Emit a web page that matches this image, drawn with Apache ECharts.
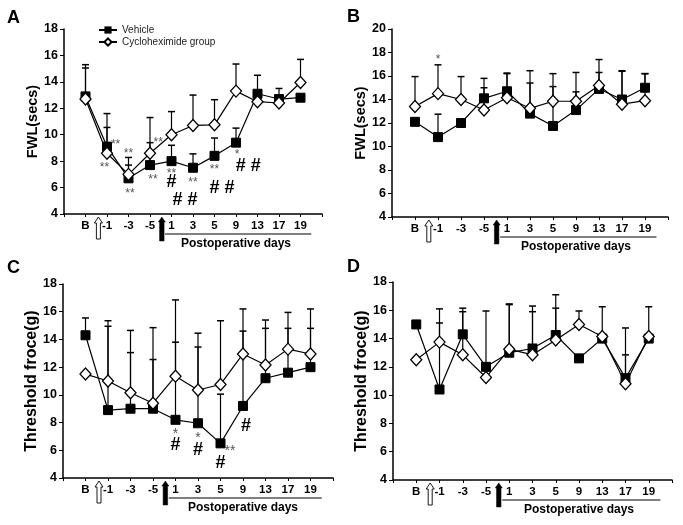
<!DOCTYPE html>
<html>
<head>
<meta charset="utf-8">
<script src="https://cdn.jsdelivr.net/npm/echarts@6/dist/echarts.min.js"></script>
<style>
html,body{margin:0;padding:0;background:#fff;}
#main{width:683px;height:525px;}
</style>
</head>
<body>
<div id="main"></div>
<script>
// ---- data ----
const categories = ['B', '-1', '-3', '-5', '1', '3', '5', '9', '13', '17', '19'];
const seriesNames = ['Vehicle', 'Cycloheximide group'];

// Panel A : FWL(secs)
const A_vehicle      = [12.9, 9.1, 6.7, 7.7, 8.0, 7.5, 8.4, 9.4, 13.1, 12.7, 12.8];
const A_cyclo        = [12.7, 8.6, 7.0, 8.6, 10.0, 10.7, 10.75, 13.3, 12.5, 12.4, 13.95];
const A_vehicleUpper = [15.3, 10.55, 8.28, 9.4, 9.2, 8.55, 9.75, 10.5, 14.5, 13.5, 12.8];
const A_cycloUpper   = [15.05, 11.6, 7.7, 11.3, 11.75, 13.0, 12.65, 15.35, 12.5, 12.4, 15.7];

// Panel B : FWL(secs)
const B_vehicle      = [12.1, 10.8, 12.0, 14.1, 14.7, 12.8, 11.75, 13.1, 14.9, 14.0, 15.0];
const B_cyclo        = [13.4, 14.5, 14.0, 13.1, 14.15, 13.25, 13.85, 13.85, 15.2, 13.6, 13.9];
const B_vehicleUpper = [12.1, 12.75, 12.0, 15.8, 16.25, 15.4, 15.1, 14.65, 17.4, 16.45, 16.2];
const B_cycloUpper   = [15.95, 16.95, 15.95, 15.0, 16.2, 16.45, 16.2, 16.3, 16.3, 16.4, 16.2];

// Panel C : Threshold froce(g)
const C_vehicle      = [14.3, 8.9, 9.0, 9.0, 8.2, 7.95, 6.5, 9.2, 11.2, 11.6, 12.0];
const C_cyclo        = [11.5, 11.0, 10.15, 9.4, 11.35, 10.35, 10.75, 12.95, 12.15, 13.3, 12.95];
const C_vehicleUpper = [15.55, 14.95, 13.05, 12.55, 13.8, 13.45, 10.05, 14.6, 14.8, 14.8, 14.8];
const C_cycloUpper   = [11.5, 15.35, 14.65, 14.85, 16.85, 14.45, 15.35, 16.2, 15.4, 15.95, 16.2];

// Panel D : Threshold froce(g)
const D_vehicle      = [15.0, 10.4, 14.3, 12.0, 13.0, 13.3, 14.25, 12.6, 14.0, 11.2, 14.0];
const D_cyclo        = [12.5, 13.75, 12.85, 11.25, 13.25, 12.85, 13.9, 15.0, 14.15, 10.8, 14.15];
const D_vehicleUpper = [15.0, 15.1, 16.15, 15.95, 16.45, 16.3, 17.1, 12.6, 16.25, 12.85, 14.0];
const D_cycloUpper   = [12.5, 16.1, 15.9, 11.25, 16.4, 15.9, 16.15, 15.95, 14.15, 14.75, 16.25];

// significance marks: [category position, value, text]
const A_marks = [[2.4, 9.45, '**'], [1.88, 7.75, '**'], [3.0, 8.78, '**'], [3.07, 5.73, '**'],
                 [4.38, 9.66, '**'], [4.14, 6.8, '**'], [5.0, 7.3, '**'], [6.0, 6.56, '**'],
                 [7.0, 7.6, '**'], [8.05, 8.7, '*'],
                 [5.0, 6.4, '#'], [5.63, 5.05, '# #'], [7.35, 6.0, '# #'], [8.57, 7.6, '# #']];
const B_marks = [[2.0, 17.66, '*']];
const C_marks = [[5.0, 7.37, '*'], [5.0, 6.4, '#'], [6.0, 7.08, '*'], [6.0, 6.0, '#'],
                 [7.42, 6.17, '**'], [7.0, 5.1, '#'], [8.13, 7.73, '#']];
const D_marks = [];

const panelLetters = ['A', 'B', 'C', 'D'];
const yTitles = ['FWL(secs)', 'FWL(secs)', 'Threshold froce(g)', 'Threshold froce(g)'];
const yMins = [4, 4, 4, 4];
const yMaxs = [18, 20, 18, 18];
const xAxisText = 'Postoperative days';
// decoration positions on the category scale
const whiteArrowX = 1.6;
const blackArrowX = 4.55;
const postLineStart = 4.7;
const postLineEnd = 11.5;
const postTextX = 8.0;

// ---- layout ----
const grids = [
  {left: 64, top: 29, width: 258, height: 185},
  {left: 392, top: 29, width: 276, height: 188},
  {left: 63, top: 284, width: 270, height: 194},
  {left: 393, top: 282, width: 279, height: 198}
];
const yNameSize = [14.5, 14.5, 16, 16];
const letterPos = [[7, 9], [347, 8], [7, 259], [347, 258]];

const panels = [
  {v: A_vehicle, c: A_cyclo, vu: A_vehicleUpper, cu: A_cycloUpper, m: A_marks},
  {v: B_vehicle, c: B_cyclo, vu: B_vehicleUpper, cu: B_cycloUpper, m: B_marks},
  {v: C_vehicle, c: C_cyclo, vu: C_vehicleUpper, cu: C_cycloUpper, m: C_marks},
  {v: D_vehicle, c: D_cyclo, vu: D_vehicleUpper, cu: D_cycloUpper, m: D_marks}
];

const FONT = '"Liberation Sans", Arial, sans-serif';

const xAxes = [], yAxes = [], series = [], titles = [];
panels.forEach((p, i) => {
  titles.push({text: panelLetters[i], left: letterPos[i][0], top: letterPos[i][1], padding: 0,
    textStyle: {fontSize: 18, fontWeight: 'bold', color: '#000', fontFamily: FONT}});
  xAxes.push({
    type: 'value', gridIndex: i, min: 0, max: 12, interval: 1,
    axisLine: {show: true, onZero: false, lineStyle: {color: '#000', width: 1.5}},
    axisTick: {show: true, length: 3, lineStyle: {color: '#000', width: 1}},
    splitLine: {show: false},
    axisLabel: {margin: 6, color: '#000', fontWeight: 'bold', fontSize: 11.5, fontFamily: FONT,
      formatter: v => (v >= 1 && v <= categories.length) ? categories[v - 1] : ''}
  });
  yAxes.push({
    type: 'value', gridIndex: i, min: yMins[i], max: yMaxs[i], interval: 2,
    name: yTitles[i], nameLocation: 'middle', nameGap: 22, nameRotate: 90,
    nameTextStyle: {fontSize: yNameSize[i], fontWeight: 'bold', color: '#000', fontFamily: FONT},
    axisLine: {show: true, lineStyle: {color: '#000', width: 1.5}},
    axisTick: {show: true, length: 4, lineStyle: {color: '#000', width: 1}},
    splitLine: {show: false},
    axisLabel: {margin: 6, color: '#000', fontWeight: 'bold', fontSize: 12.5, fontFamily: FONT}
  });

  const toPts = arr => arr.map((y, k) => [k + 1, y]);
  const toErr = (vals, ups) => vals.map((y, k) => [k + 1, y, ups[k]]);

  // error bars
  series.push({
    type: 'custom', xAxisIndex: i, yAxisIndex: i, z: 2, silent: true,
    data: toErr(p.v, p.vu).concat(toErr(p.c, p.cu)),
    renderItem: (params, api) => {
      const x = api.value(0), y = api.value(1), u = api.value(2);
      if (u <= y + 0.02) return null;
      const a = api.coord([x, y]), b = api.coord([x, u]);
      return {type: 'group', children: [
        {type: 'line', shape: {x1: a[0], y1: a[1], x2: b[0], y2: b[1]}, style: {stroke: '#000', lineWidth: 1.2}},
        {type: 'line', shape: {x1: b[0] - 3.5, y1: b[1], x2: b[0] + 3.5, y2: b[1]}, style: {stroke: '#000', lineWidth: 1.5}}
      ]};
    }
  });

  series.push({
    name: seriesNames[0], type: 'line', xAxisIndex: i, yAxisIndex: i, z: 3,
    data: toPts(p.v), symbol: 'rect', symbolSize: 9,
    lineStyle: {color: '#000', width: 1.2}, itemStyle: {color: '#000', borderColor: '#000'},
    animation: false
  });
  series.push({
    name: seriesNames[1], type: 'line', xAxisIndex: i, yAxisIndex: i, z: 4,
    data: toPts(p.c), symbol: 'diamond', symbolSize: [11, 12],
    lineStyle: {color: '#000', width: 1.2}, itemStyle: {color: '#fff', borderColor: '#000', borderWidth: 1.3},
    animation: false
  });

  // significance marks
  series.push({
    type: 'custom', xAxisIndex: i, yAxisIndex: i, z: 5, silent: true,
    data: p.m.map(d => [d[0], d[1], d[2]]),
    encode: {x: 0, y: 1},
    renderItem: (params, api) => {
      const d = p.m[params.dataIndex];
      const pt = api.coord([d[0], d[1]]);
      const isHash = d[2].indexOf('#') >= 0;
      return {type: 'text', x: pt[0], y: pt[1] + (isHash ? 0 : 3), style: {
        text: d[2], align: 'center', verticalAlign: 'middle',
        font: (isHash ? 'bold 18px ' : 'normal ' + (i === 2 ? 14 : 12) + 'px ') + FONT,
        fill: isHash ? '#000' : '#555'
      }};
    }
  });

  // arrows and "Postoperative days"
  series.push({
    type: 'custom', xAxisIndex: i, yAxisIndex: i, z: 6, silent: true, clip: false,
    data: [[whiteArrowX, yMins[i]]],
    renderItem: (params, api) => {
      const cs = params.coordSys;
      const bottom = cs.y + cs.height;
      const wx = api.coord([whiteArrowX, yMins[i]])[0];
      const bx = api.coord([blackArrowX, yMins[i]])[0];
      const ls = api.coord([postLineStart, yMins[i]])[0];
      const le = api.coord([postLineEnd, yMins[i]])[0];
      const tx = api.coord([postTextX, yMins[i]])[0];
      const arrow = (x, top, bot, sw, hw, hh) => [
        [x, top], [x + hw / 2, top + hh], [x + sw / 2, top + hh], [x + sw / 2, bot],
        [x - sw / 2, bot], [x - sw / 2, top + hh], [x - hw / 2, top + hh]
      ];
      return {type: 'group', children: [
        {type: 'polygon', shape: {points: arrow(wx, bottom + 3, bottom + 25, 4, 8, 6)},
          style: {fill: '#fff', stroke: '#000', lineWidth: 0.9}},
        {type: 'polygon', shape: {points: arrow(bx, bottom + 3, bottom + 27, 4.5, 7, 5)},
          style: {fill: '#000', stroke: '#000', lineWidth: 0.5}},
        {type: 'line', shape: {x1: ls, y1: bottom + 20, x2: le, y2: bottom + 20},
          style: {stroke: '#000', lineWidth: 1}},
        {type: 'text', x: tx, y: bottom + 30, style: {text: xAxisText, align: 'center',
          verticalAlign: 'middle', font: 'bold 12px ' + FONT, fill: '#000'}}
      ]};
    }
  });
});

const chart = echarts.init(document.getElementById('main'), null, {renderer: 'canvas'});
chart.setOption({
  animation: false,
  backgroundColor: '#fff',
  title: titles,
  legend: {
    data: seriesNames, orient: 'vertical', left: 98, top: 25, itemGap: 2,
    itemWidth: 18, itemHeight: 9, padding: 0,
    textStyle: {fontSize: 10, color: '#222', fontFamily: FONT}
  },
  grid: grids,
  xAxis: xAxes,
  yAxis: yAxes,
  series: series
});
</script>
</body>
</html>
